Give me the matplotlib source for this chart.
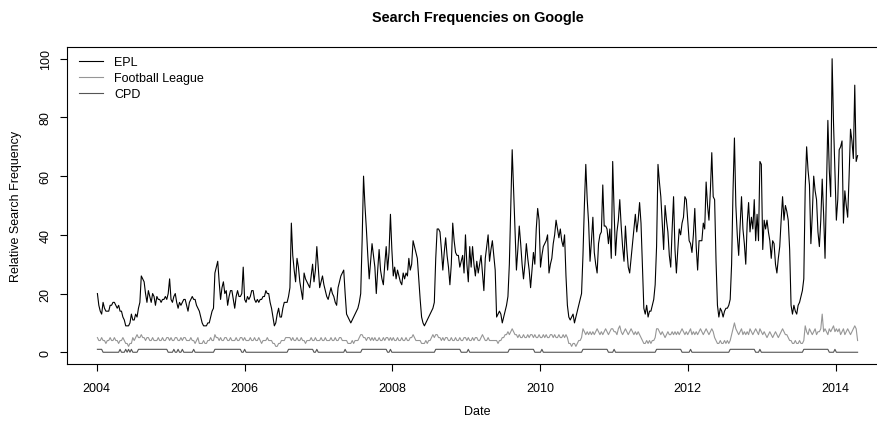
import matplotlib
matplotlib.use("Agg")
import matplotlib.pyplot as plt
import matplotlib.dates as mdates
import pandas as pd

plt.rcParams['font.family'] = ['Liberation Sans', 'DejaVu Sans']

# weekly relative search frequency, one list per year (2014 is partial)
epl_2004 = [20, 16, 14, 13, 17, 15, 14, 14, 14, 16, 16, 17, 17, 16, 15, 16, 14, 14, 12, 11,
            9, 9, 9, 10, 13, 11, 11, 13, 12, 15, 17, 26, 25, 24, 20, 17, 21, 19, 17, 20,
            19, 16, 19, 18, 18, 17, 18, 18, 19, 18, 20, 25]
epl_2005 = [18, 17, 19, 20, 17, 15, 17, 16, 17, 18, 18, 16, 14, 17, 18, 19, 18, 18, 16, 15,
            14, 12, 10, 9, 9, 9, 10, 10, 12, 14, 15, 27, 29, 31, 24, 18, 22, 24, 20, 21,
            16, 19, 21, 21, 18, 15, 19, 21, 19, 19, 20, 29]
epl_2006 = [18, 17, 19, 18, 19, 21, 21, 18, 17, 18, 17, 18, 18, 19, 19, 21, 20, 20, 17, 15,
            12, 9, 10, 13, 15, 12, 12, 15, 17, 17, 17, 19, 22, 44, 33, 28, 24, 32, 29, 24,
            21, 18, 27, 25, 24, 23, 22, 26, 30, 24, 28, 36]
epl_2007 = [29, 22, 24, 26, 23, 21, 19, 18, 20, 22, 20, 19, 17, 16, 22, 24, 26, 27, 28, 20,
            13, 12, 11, 10, 11, 12, 13, 14, 15, 17, 20, 38, 60, 50, 42, 33, 25, 31, 37, 33,
            29, 20, 28, 35, 28, 25, 23, 30, 36, 28, 34, 47]
epl_2008 = [35, 26, 29, 25, 28, 26, 24, 23, 27, 25, 27, 26, 32, 28, 30, 38, 36, 34, 32, 25,
            18, 12, 10, 9, 10, 11, 12, 13, 14, 15, 17, 32, 42, 42, 41, 35, 28, 34, 39, 33,
            29, 23, 30, 44, 38, 34, 33, 33, 29, 31, 33, 27]
epl_2009 = [40, 30, 24, 36, 29, 36, 30, 26, 31, 27, 30, 33, 27, 21, 32, 36, 40, 31, 35, 38,
            33, 28, 12, 13, 14, 13, 10, 12, 14, 16, 19, 30, 50, 69, 55, 42, 28, 35, 43, 37,
            30, 25, 30, 37, 32, 28, 22, 28, 34, 30, 42, 49]
epl_2010 = [45, 29, 33, 36, 37, 38, 40, 27, 30, 32, 37, 40, 45, 42, 39, 42, 38, 36, 40, 26,
            16, 12, 11, 12, 13, 10, 12, 14, 16, 18, 20, 33, 50, 64, 52, 44, 31, 38, 46, 34,
            30, 27, 37, 40, 41, 57, 43, 43, 42, 37, 42, 32]
epl_2011 = [65, 48, 33, 41, 45, 52, 43, 36, 31, 43, 35, 29, 27, 32, 37, 42, 47, 41, 45, 51,
            44, 30, 15, 13, 16, 12, 14, 14, 16, 18, 23, 36, 64, 58, 53, 44, 35, 50, 45, 41,
            33, 29, 42, 53, 35, 27, 35, 42, 40, 44, 46, 53]
epl_2012 = [52, 45, 38, 37, 34, 40, 49, 36, 28, 38, 38, 38, 44, 42, 58, 50, 45, 55, 68, 53,
            52, 31, 16, 12, 15, 14, 12, 14, 15, 15, 16, 18, 30, 55, 73, 50, 40, 33, 43, 53,
            42, 37, 30, 44, 51, 41, 46, 42, 52, 38, 47, 38]
epl_2013 = [65, 64, 35, 45, 42, 45, 41, 38, 32, 38, 37, 30, 27, 32, 36, 45, 53, 45, 50, 48,
            45, 35, 16, 13, 16, 14, 13, 16, 17, 19, 21, 25, 56, 70, 62, 57, 37, 47, 60, 55,
            52, 41, 36, 45, 59, 47, 32, 55, 79, 62, 53, 100]
epl_2014 = [78, 61, 45, 52, 69, 70, 72, 44, 55, 50, 46, 60, 76, 72, 66, 91, 65, 67]

fl_2004 = [5, 4, 4, 5, 4, 4, 3, 4, 4, 5, 4, 4, 5, 4, 4, 3, 4, 4, 5, 4,
           3, 3, 2, 3, 3, 5, 4, 5, 6, 5, 5, 6, 5, 5, 4, 5, 5, 4, 4, 5,
           4, 4, 4, 5, 4, 4, 5, 4, 4, 5, 5, 4]
fl_2005 = [5, 4, 4, 5, 5, 4, 4, 5, 4, 5, 5, 4, 4, 4, 5, 4, 4, 3, 4, 5,
           3, 3, 3, 4, 3, 3, 4, 4, 5, 4, 4, 6, 5, 5, 4, 5, 4, 4, 5, 5,
           4, 4, 5, 4, 4, 4, 5, 4, 4, 5, 5, 4]
fl_2006 = [5, 4, 4, 4, 5, 4, 4, 5, 4, 4, 5, 4, 3, 4, 4, 4, 5, 4, 4, 4,
           3, 3, 2, 2, 3, 3, 4, 4, 4, 5, 5, 5, 5, 4, 5, 4, 4, 5, 4, 4,
           5, 4, 4, 3, 4, 4, 4, 5, 4, 4, 5, 4]
fl_2007 = [4, 4, 5, 4, 4, 5, 4, 4, 4, 5, 4, 4, 5, 4, 4, 5, 5, 4, 4, 4,
           4, 3, 3, 3, 4, 3, 4, 4, 4, 5, 6, 6, 5, 5, 4, 5, 5, 4, 5, 4,
           5, 4, 4, 5, 4, 4, 5, 4, 5, 5, 4, 5]
fl_2008 = [4, 5, 4, 4, 5, 4, 4, 5, 4, 4, 5, 4, 4, 5, 5, 6, 5, 4, 4, 4,
           4, 3, 3, 3, 4, 3, 4, 4, 5, 6, 5, 6, 6, 5, 5, 4, 5, 4, 5, 5,
           4, 4, 5, 4, 4, 5, 4, 4, 5, 4, 4, 5]
fl_2009 = [5, 4, 5, 4, 4, 5, 4, 5, 5, 4, 4, 5, 6, 5, 4, 4, 5, 4, 4, 4,
           4, 4, 4, 3, 4, 4, 5, 5, 6, 6, 7, 6, 7, 8, 7, 6, 6, 5, 6, 5,
           5, 6, 5, 5, 6, 5, 6, 6, 5, 6, 5, 5]
fl_2010 = [6, 5, 5, 6, 5, 6, 5, 5, 6, 6, 5, 6, 5, 5, 6, 5, 5, 6, 5, 6,
           5, 3, 3, 2, 3, 3, 2, 3, 4, 4, 5, 8, 7, 6, 7, 6, 7, 6, 7, 6,
           7, 8, 7, 6, 7, 6, 7, 8, 7, 6, 7, 8]
fl_2011 = [8, 7, 7, 6, 8, 9, 7, 6, 7, 8, 7, 6, 7, 8, 7, 6, 7, 6, 7, 6,
           5, 4, 3, 3, 4, 3, 4, 3, 4, 4, 5, 8, 8, 7, 6, 7, 6, 5, 6, 7,
           6, 6, 7, 6, 7, 6, 7, 6, 7, 8, 7, 6]
fl_2012 = [7, 6, 7, 8, 6, 7, 6, 7, 6, 7, 8, 7, 6, 7, 8, 7, 6, 7, 8, 7,
           5, 4, 3, 3, 4, 3, 3, 4, 3, 4, 3, 4, 6, 8, 10, 8, 7, 6, 7, 8,
           6, 7, 6, 7, 6, 8, 7, 6, 7, 8, 7, 6]
fl_2013 = [8, 7, 6, 7, 6, 5, 6, 7, 6, 5, 6, 7, 6, 5, 6, 7, 8, 7, 6, 6,
           5, 4, 4, 3, 3, 4, 3, 3, 4, 3, 3, 4, 9, 7, 6, 8, 7, 6, 7, 8,
           6, 7, 7, 8, 13, 7, 8, 7, 6, 8, 7, 8]
fl_2014 = [9, 7, 8, 7, 8, 6, 7, 8, 6, 7, 8, 7, 6, 7, 8, 9, 8, 4]

# CPD is only ever 0 or 1: one digit per week
cpd_2004 = "1111000000000000100010101000011111111111111111111100"
cpd_2005 = "0010010010000000100000000000000111111111111111111100"
cpd_2006 = "1000000000000000000000000000000111111111111111111001"
cpd_2007 = "0000000000000000000100000000000111111111111111111001"
cpd_2008 = "0000000000000000000000000000000111111111111111111000"
cpd_2009 = "0010000000000000000000000000000111111111111111111000"
cpd_2010 = "0010000000000000000000000000000111111111111111111000"
cpd_2011 = "0100000000000000000000000000000111111111111111111000"
cpd_2012 = "0001000000000000000000000000000111111111111111111000"
cpd_2013 = "1000000000000000000000000000000111111111111111111000"
cpd_2014 = "010000000000000000"

epl = (epl_2004 + epl_2005 + epl_2006 + epl_2007 + epl_2008 + epl_2009 +
       epl_2010 + epl_2011 + epl_2012 + epl_2013 + epl_2014)
fl = (fl_2004 + fl_2005 + fl_2006 + fl_2007 + fl_2008 + fl_2009 +
      fl_2010 + fl_2011 + fl_2012 + fl_2013 + fl_2014)
cpd_str = (cpd_2004 + cpd_2005 + cpd_2006 + cpd_2007 + cpd_2008 + cpd_2009 +
           cpd_2010 + cpd_2011 + cpd_2012 + cpd_2013 + cpd_2014)
cpd = [int(c) for c in cpd_str]

n = min(len(epl), len(fl), len(cpd))
dates = pd.date_range('2004-01-04', periods=n, freq='7D')

W, H = 878, 427
fig = plt.figure(figsize=(W / 100, H / 100), dpi=100)
# plot region runs a little past the right edge of the picture
ax = fig.add_axes([67 / W, 1 - 365 / H, (888 - 67) / W, (365 - 48) / H])

ax.plot(dates, epl[:n], color='black', lw=0.8, label='EPL')
ax.plot(dates, fl[:n], color='#969696', lw=0.8, label='Football League')
ax.plot(dates, cpd[:n], color='#555555', lw=0.8, label='CPD')

x0 = mdates.date2num(dates[0])
x1 = mdates.date2num(dates[-1])
pad = 0.04 * (x1 - x0)
ax.set_xlim(x0 - pad, x1 + pad)
ax.set_ylim(-4, 104)

years = [2004, 2006, 2008, 2010, 2012, 2014]
ax.set_xticks(pd.to_datetime([f'{y}-01-01' for y in years]))
ax.set_xticklabels([str(y) for y in years])
ax.set_yticks([0, 20, 40, 60, 80, 100])
ax.set_yticklabels(['0', '20', '40', '60', '80', '100'], rotation=90, va='center')

ax.tick_params(direction='out', length=5, width=0.8, labelsize=9, color='black')
ax.tick_params(axis='x', pad=8)
ax.tick_params(axis='y', pad=6)
for s in ax.spines.values():
    s.set_linewidth(0.8)
    s.set_color('black')

fig.text((67 + 888) / 2 / W, 1 - 18 / H, 'Search Frequencies on Google',
         ha='center', va='center', fontsize=10.4, fontweight='bold')
fig.text((67 + 888) / 2 / W, 1 - 412 / H, 'Date', ha='center', va='center', fontsize=9)
fig.text(16 / W, 1 - 206 / H, 'Relative Search Frequency', ha='center', va='center',
         rotation=90, fontsize=9)

ax.legend(loc='upper left', bbox_to_anchor=(79 / W, 1 - 57 / H), bbox_transform=fig.transFigure,
          frameon=False, borderpad=0, borderaxespad=0, handlelength=1.9,
          handletextpad=0.9, labelspacing=0.32, fontsize=9)

fig.savefig('out.png', dpi=100)
